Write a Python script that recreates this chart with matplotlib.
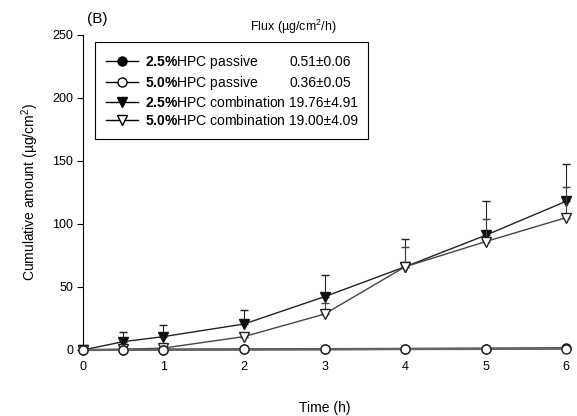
import matplotlib
matplotlib.use("Agg")
import matplotlib.pyplot as plt
from matplotlib.lines import Line2D
import numpy as np

plt.rcParams['font.family'] = ['Liberation Sans', 'DejaVu Sans']
plt.rcParams['mathtext.fontset'] = 'custom'
plt.rcParams['mathtext.rm'] = 'Liberation Sans'
plt.rcParams['mathtext.bf'] = 'Liberation Sans:bold'
plt.rcParams['mathtext.it'] = 'Liberation Sans:italic'

time = [0, 0.5, 1, 2, 3, 4, 5, 6]
passive_25 = [0, 0.1, 0.3, 0.5, 0.7, 0.9, 1.1, 1.4]
passive_50 = [0, 0.1, 0.2, 0.4, 0.5, 0.7, 0.8, 1.0]
comb_25 = [0, 6.6, 10.6, 20.6, 42.3, 66, 91, 118]
comb_25_err = [0, 8, 9, 11, 17, 22, 27, 30]
comb_50 = [0, 0.5, 1.5, 10.6, 28.5, 66, 86, 105]
comb_50_err = [0, 0, 0, 0, 9, 16, 18, 24]

labels = [r"$\bf{2.5\%}$HPC passive", r"$\bf{5.0\%}$HPC passive",
          r"$\bf{2.5\%}$HPC combination", r"$\bf{5.0\%}$HPC combination"]
flux = ["0.51±0.06", "0.36±0.05", "19.76±4.91", "19.00±4.09"]

fig = plt.figure(figsize=(5.77, 4.16), dpi=100)
ax = fig.add_axes([0.1438, 0.1587, 0.981 - 0.1438, 0.9159 - 0.1587])

ms = 6.5
zeros = np.zeros(len(time))
ax.errorbar(time, comb_25, yerr=[zeros, comb_25_err], color='#222222', lw=1.0,
            marker='v', ms=ms, mfc='#111111', mec='#111111', capsize=3, elinewidth=0.8,
            clip_on=False, zorder=3)
ax.errorbar(time, comb_50, yerr=[zeros, comb_50_err], color='#444444', lw=1.0,
            marker='v', ms=ms, mfc='white', mec='#222222', capsize=3, elinewidth=0.8,
            clip_on=False, zorder=4)
ax.plot(time, passive_25, color='#333333', lw=1.6, marker='o', ms=ms,
        mfc='#111111', mec='#111111', clip_on=False, zorder=5)
ax.plot(time, passive_50, color='#666666', lw=1.6, marker='o', ms=ms,
        mfc='white', mec='#222222', clip_on=False, zorder=6)

ax.set_xlim(0, 6)
ax.set_ylim(0, 250)
ax.set_xticks([0, 1, 2, 3, 4, 5, 6])
ax.set_yticks([0, 50, 100, 150, 200, 250])
ax.spines['top'].set_visible(False)
ax.spines['right'].set_visible(False)
ax.spines['bottom'].set_visible(False)
ax.tick_params(axis='x', length=0, pad=8, labelsize=9)
ax.tick_params(axis='y', length=4, width=0.8, pad=3, labelsize=9)
ax.set_xlabel("Time (h)", fontsize=10, labelpad=20)
ax.set_ylabel("Cumulative amount (µg/cm$^2$)", fontsize=10, labelpad=8)

handles = [
    Line2D([], [], color='black', lw=1.0, marker='o', ms=ms, mfc='black', mec='black'),
    Line2D([], [], color='black', lw=1.0, marker='o', ms=ms, mfc='white', mec='black'),
    Line2D([], [], color='black', lw=1.0, marker='v', ms=ms, mfc='black', mec='black'),
    Line2D([], [], color='black', lw=1.0, marker='v', ms=ms, mfc='white', mec='black'),
]
x0 = (95 - 83) / 483
x1 = (368 - 83) / 483
ytop = (350 - 42) / 315
ybot = (350 - 143) / 315
leg = ax.legend(handles, labels, loc='upper left', mode='expand',
                bbox_to_anchor=(x0, ybot, x1 - x0, ytop - ybot), borderaxespad=0,
                fontsize=10, frameon=True, fancybox=False, edgecolor='black',
                framealpha=1, borderpad=0.8, handlelength=2.3, handletextpad=0.5,
                labelspacing=0.22)
leg.get_frame().set_linewidth(0.8)

fig.canvas.draw()
for t, f in zip(leg.get_texts(), flux):
    bb = t.get_window_extent()
    ycen = (bb.y0 + bb.y1) / 2
    xy = ax.transAxes.inverted().transform((289, ycen))
    ax.text(xy[0], xy[1], f, transform=ax.transAxes, fontsize=10, va='center',
            ha='left', zorder=10)

fig.text(250 / 577, 1 - 27 / 416, "Flux (µg/cm$^2$/h)", fontsize=9, ha='left', va='center')
fig.text(87 / 577, 1 - 19 / 416, "(B)", fontsize=11, ha='left', va='center')

fig.savefig("out.png", dpi=100)
